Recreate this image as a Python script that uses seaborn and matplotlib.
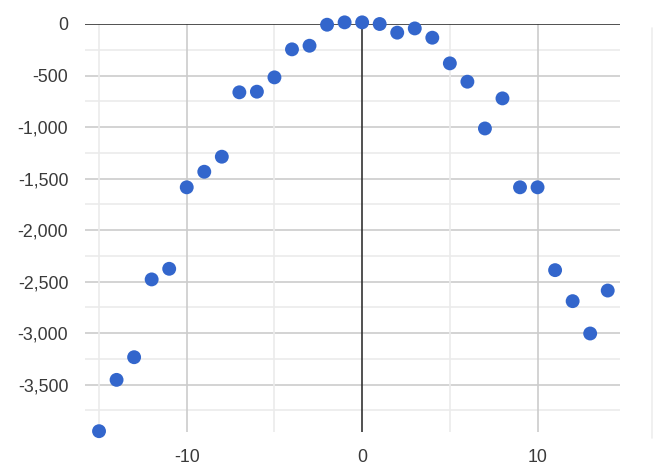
import matplotlib
matplotlib.use("Agg")
import matplotlib.pyplot as plt
import seaborn as sns
import pandas as pd
from matplotlib.lines import Line2D
from matplotlib.ticker import FuncFormatter, MultipleLocator

x_values = list(range(-15, 15))
y_values = [-3952, -3454, -3234, -2479, -2376, -1585, -1434, -1288, -663, -657,
            -518, -246, -211, -7, 16, 16, 0, -84, -43, -133,
            -382, -560, -1014, -722, -1585, -1585, -2389, -2690, -3004, -2587]

df = pd.DataFrame({"x": x_values, "y": y_values})

sns.set_theme(style="white")
plt.rcParams["font.family"] = ["Liberation Sans", "DejaVu Sans"]
plt.rcParams["axes.unicode_minus"] = False

fig = plt.figure(figsize=(6.63, 4.66), dpi=100)
ax = fig.add_axes([85 / 663, 1 - 432 / 466, (620 - 85) / 663, (432 - 24) / 466])

ax.set_xlim(-15.8, 14.7)
ax.set_ylim(-3960, 0)

# grid lines
for yv in range(-3750, 0, 250):
    major = (yv % 500 == 0)
    ax.axhline(yv, color="#cccccc" if major else "#ebebeb", lw=1.2, zorder=0)
for xv in [-15, -10, -5, 5, 10]:
    major = (xv % 10 == 0)
    ax.axvline(xv, color="#cccccc" if major else "#ebebeb", lw=1.2, zorder=0)
ax.axvline(0, color="#333333", lw=1.2, zorder=1)
ax.axhline(0, color="#333333", lw=1.2, zorder=1)

sns.scatterplot(data=df, x="x", y="y", ax=ax, color="#3366cc", s=100,
                edgecolor="none", zorder=3, clip_on=False, legend=False)

for s in ax.spines.values():
    s.set_visible(False)

ax.xaxis.set_major_locator(MultipleLocator(10))
ax.xaxis.set_major_formatter(FuncFormatter(lambda v, p: f"{int(v)}"))
ax.yaxis.set_major_locator(MultipleLocator(500))
ax.yaxis.set_major_formatter(FuncFormatter(lambda v, p: f"{int(v):,}"))
ax.tick_params(axis="both", length=0, labelsize=12.8, labelcolor="#3a3a3a")
ax.tick_params(axis="y", pad=12)
ax.tick_params(axis="x", pad=12)
ax.set_xlabel("")
ax.set_ylabel("")

# faint artifact strip on the right
fig.add_artist(Line2D([652 / 663, 652 / 663], [1 - 28 / 466, 1 - 438 / 466],
                      color="#eeeeee", lw=1.2))

fig.savefig("out.png", dpi=100)
